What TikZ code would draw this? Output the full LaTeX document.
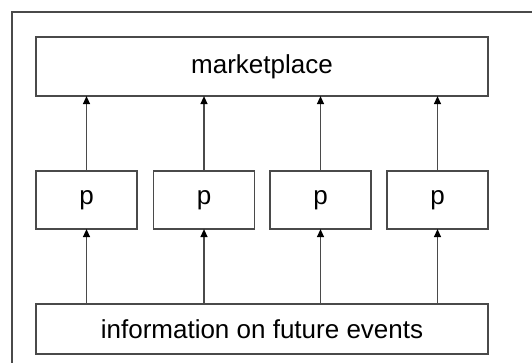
\documentclass[tikz,border=0pt]{standalone}
\usepackage{fontspec}
\setmainfont{Liberation Sans}
\usetikzlibrary{arrows.meta}
\definecolor{edge}{HTML}{4A4A4A}
\tikzset{
  box/.style={draw=edge, line width=1.2pt, fill=white, inner sep=0pt,
              font=\fontsize{26}{30}\selectfont},
  link/.style={draw=edge, line width=1.2pt,
               -{Triangle[width=7pt,length=8pt,color=black]}, shorten >=-0.5pt},
}
\begin{document}
\begin{tikzpicture}[x=1pt,y=-1pt]
  \useasboundingbox (0,0) rectangle (532,363);
  % outer frame, running off the right and bottom edges
  \draw[edge, line width=1.2pt] (12,375) -- (12,12) -- (545,12);
  % boxes
  \node[box, minimum width=452pt, minimum height=59pt] (market) at (262,66.5) {marketplace};
  \node[box, minimum width=101pt, minimum height=58pt] (p1) at (86.5,200) {p};
  \node[box, minimum width=101pt, minimum height=58pt] (p2) at (204,200) {p};
  \node[box, minimum width=101pt, minimum height=58pt] (p3) at (320.5,200) {p};
  \node[box, minimum width=101pt, minimum height=58pt] (p4) at (437.5,200) {p};
  \node[box, minimum width=452pt, minimum height=50pt] (info) at (262,329) {information on future events};
  % arrows
  \foreach \i in {1,...,4} {
    \draw[link] (info.north -| p\i) -- (p\i.south);
    \draw[link] (p\i.north) -- (market.south -| p\i);
  }
\end{tikzpicture}
\end{document}
